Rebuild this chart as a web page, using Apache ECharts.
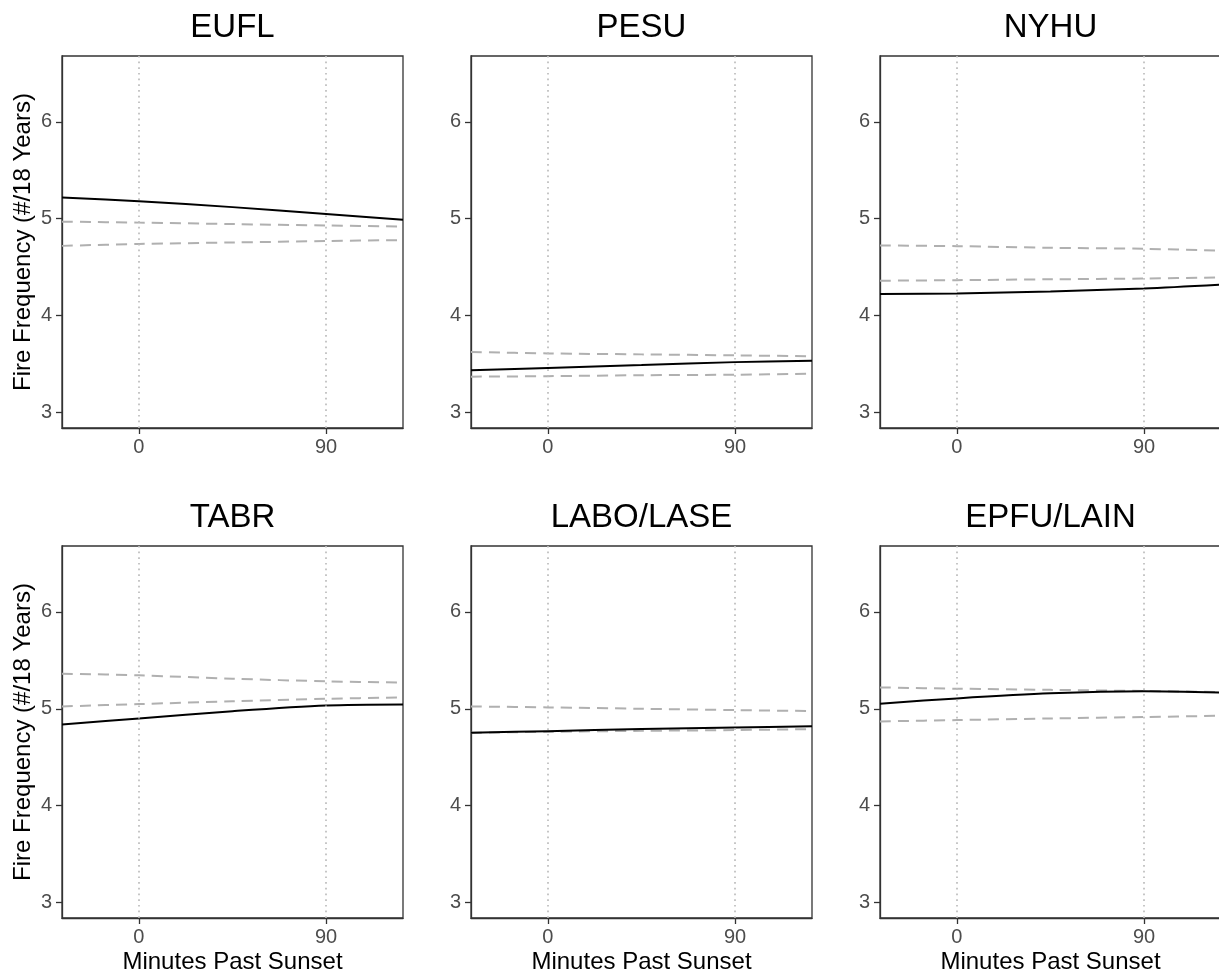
<!DOCTYPE html>
<html>
<head>
<meta charset="utf-8">
<script src="https://cdn.jsdelivr.net/npm/echarts@6/dist/echarts.min.js"></script>
<style>
  html, body { margin: 0; padding: 0; background: #fff; }
  #chart { width: 1219px; height: 972px; }
</style>
</head>
<body>
<div id="chart"></div>
<script>
// minutes past sunset where the curves were read
const minutes = [-37, 0, 45, 90, 127];
const xTicks = [0, 90];
const yTicks = [3, 4, 5, 6];

const panelNames = ["EUFL", "PESU", "NYHU", "TABR", "LABO/LASE", "EPFU/LAIN"];

// fitted fire frequency (solid line)
const fitEUFL = [5.22, 5.18, 5.12, 5.05, 4.99];
const fitPESU = [3.435, 3.46, 3.49, 3.52, 3.535];
const fitNYHU = [4.224, 4.228, 4.25, 4.28, 4.32];
const fitTABR = [4.838, 4.90, 4.975, 5.034, 5.045];
const fitLABO = [4.752, 4.769, 4.79, 4.807, 4.82];
const fitEPFU = [5.052, 5.107, 5.159, 5.18, 5.166];

// upper dashed line
const hiEUFL = [4.97, 4.96, 4.945, 4.93, 4.92];
const hiPESU = [3.625, 3.61, 3.60, 3.59, 3.58];
const hiNYHU = [4.724, 4.717, 4.70, 4.69, 4.67];
const hiTABR = [5.362, 5.345, 5.31, 5.283, 5.27];
const hiLABO = [5.024, 5.014, 5.0, 4.986, 4.976];
const hiEPFU = [5.22, 5.207, 5.195, 5.183, 5.172];

// lower dashed line
const loEUFL = [4.72, 4.74, 4.755, 4.77, 4.78];
const loPESU = [3.37, 3.375, 3.385, 3.39, 3.40];
const loNYHU = [4.36, 4.366, 4.375, 4.383, 4.395];
const loTABR = [5.024, 5.048, 5.078, 5.103, 5.117];
const loLABO = [4.752, 4.762, 4.772, 4.78, 4.79];
const loEPFU = [4.869, 4.883, 4.90, 4.914, 4.928];

const fits = [fitEUFL, fitPESU, fitNYHU, fitTABR, fitLABO, fitEPFU];
const his = [hiEUFL, hiPESU, hiNYHU, hiTABR, hiLABO, hiEPFU];
const los = [loEUFL, loPESU, loNYHU, loTABR, loLABO, loEPFU];

const FONT = "Liberation Sans, Arial, sans-serif";
const colLeft = [62, 471, 880];
const rowTop = [56, 546];
const panelW = 341;
const panelH = 372;

const chart = echarts.init(document.getElementById("chart"));

const grids = [], xAxes = [], yAxes = [], titles = [], series = [];

const pairs = (ys) => minutes.map((m, i) => [m, ys[i]]);

panelNames.forEach((name, p) => {
  const col = p % 3, row = Math.floor(p / 3);
  grids.push({
    left: colLeft[col], top: rowTop[row], width: panelW, height: panelH,
    outerBoundsMode: "none", containLabel: false,
    show: true, borderColor: "#333333", borderWidth: 1.3, backgroundColor: "#fff",
  });
  titles.push({
    text: name, left: colLeft[col] + panelW / 2, top: rowTop[row] - 45,
    textAlign: "center", padding: 0,
    textStyle: { fontFamily: FONT, fontSize: 33, fontWeight: "normal", color: "#000" },
  });
  xAxes.push({
    gridIndex: p, type: "value", min: -37, max: 127,
    axisLine: { show: true, onZero: false, lineStyle: { color: "#333333", width: 1.3 } },
    axisTick: { show: true, length: 6, customValues: xTicks, lineStyle: { color: "#333333", width: 1.3 } },
    axisLabel: { customValues: xTicks, margin: 9, color: "#4d4d4d", fontFamily: FONT, fontSize: 20 },
    splitLine: { show: false },
    name: row === 1 ? "Minutes Past Sunset" : "",
    nameLocation: "middle", nameGap: 32,
    nameTextStyle: { fontFamily: FONT, fontSize: 24, color: "#000" },
  });
  yAxes.push({
    gridIndex: p, type: "value", min: 2.84, max: 6.68,
    axisLine: { show: true, onZero: false, lineStyle: { color: "#333333", width: 1.3 } },
    axisTick: { show: true, length: 6, customValues: yTicks, lineStyle: { color: "#333333", width: 1.3 } },
    axisLabel: { customValues: yTicks, margin: 10, color: "#4d4d4d", fontFamily: FONT, fontSize: 20 },
    splitLine: { show: false },
    name: col === 0 ? "Fire Frequency (#/18 Years)" : "",
    nameLocation: "middle", nameGap: 27,
    nameTextStyle: { fontFamily: FONT, fontSize: 24, color: "#000" },
  });
  // dotted reference lines at the tick minutes
  series.push({
    type: "line", xAxisIndex: p, yAxisIndex: p, data: [], silent: true, z: 1,
    markLine: {
      silent: true, symbol: "none", label: { show: false },
      lineStyle: { color: "#bdbdbd", width: 1.7, type: [1.7, 4] },
      data: xTicks.map((t) => ({ xAxis: t })),
    },
  });
  [his[p], los[p]].forEach((ys) => {
    series.push({
      type: "line", xAxisIndex: p, yAxisIndex: p, data: pairs(ys), z: 2,
      smooth: 0.3, showSymbol: false, silent: true,
      lineStyle: { color: "#b0b0b0", width: 2, type: [11, 7] },
    });
  });
  series.push({
    type: "line", xAxisIndex: p, yAxisIndex: p, data: pairs(fits[p]), z: 3,
    smooth: 0.3, showSymbol: false, silent: true,
    lineStyle: { color: "#000", width: 2 },
  });
});

chart.setOption({
  animation: false,
  backgroundColor: "#fff",
  title: titles,
  grid: grids,
  xAxis: xAxes,
  yAxis: yAxes,
  series: series,
});
</script>
</body>
</html>
